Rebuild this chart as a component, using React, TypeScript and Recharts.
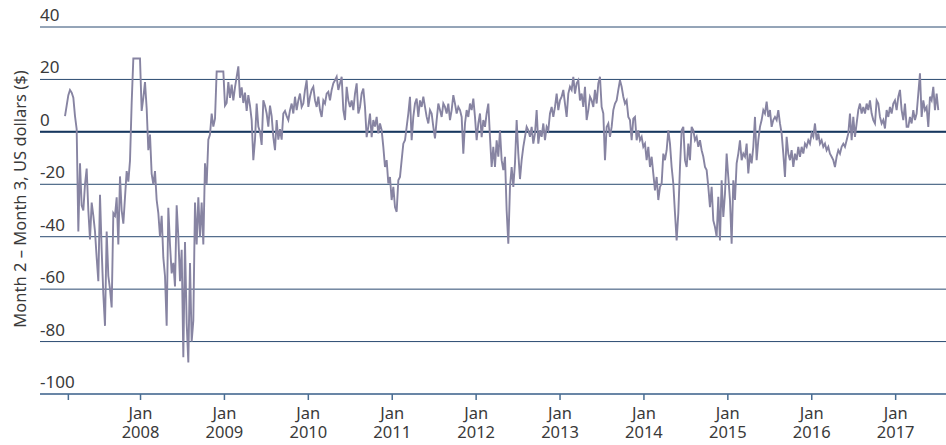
import { LineChart, Line, XAxis, YAxis, CartesianGrid, ReferenceLine } from 'recharts';

// Month 2 minus month 3 spread, US$, sampled roughly weekly from Feb 2007.
const START_YEAR = 2007.1;
const STEP_YEARS = 0.019863;

const spreadFeb07 = [
  6, 10, 14, 16, 15, 13, 6, 1, -38, -12,
  -28, -30, -20, -14, -30, -41, -27, -32, -38, -48,
  -57, -24, -45, -62, -74, -38, -55, -60, -67, -31,
  -32, -25, -43, -17, -30, -35, -25, -15, -19, -11,
  11, 28, 28, 28, 28, 28, 8, 13, 19, 9,
  -7, -1, -16, -20, -15, -26, -31, -40, -32, -48,
  -55, -74, -29, -43, -54, -50,
];
const spreadJun08 = [
  -59, -28, -40, -57, -45, -86, -42, -73, -88, -50,
  -80, -72, -27, -43, -25, -40, -27, -43, -12, -20,
  -3, -1, 7, 2, 5, 23, 23, 23, 23, 23,
  10, 11, 19, 13, 18, 12, 17, 21, 25, 13,
  17, 11, 15, 8, 14, 10, 4.5, -10.8, -3, 10.8,
  2, 0, -5, 12, 10, 7, 2, 10, 6, -2,
  -7, 4.5, -3, 1, -3, 7, 8, 6, 4.5,
];
const spreadOct09 = [
  8.3, 10.8, 7, 13.4, 8.3, 12, 14.6, 9.5, 10.8, 16,
  19.7, 9.5, 13.4, 16, 17.2, 12, 9.5, 13.4, 8.3, 5.7,
  12, 10.8, 14.6, 15.3, 12, 16, 18.5, 19.7, 21, 16,
  18.5, 21, 8.3, 4.5, 17.2, 12, 9.5, 12, 8.3, 14.6,
  18.5, 7, 9.5, 14.6, 16.5, 9.5, -2, 2, 7, -2,
  4.5, 2, 5.7, -0.6, 3.2, 0.6, -5.7, -13.4, -10.8, -19.7,
  -17.2, -26, -21, -28.7, -30.5, -18.5, -17.2, -10.8, -4.5,
];
const spreadFeb11 = [
  -3.2, 1.9, 7, 13.4, -3.2, 5.7, 10.8, 12.7, 5.7, 12,
  9.5, 13.4, 9.5, 5.7, 3.2, 8.3, 7, 1.9, -2.5, 4.5,
  10.8, 8.3, 5.7, 10.8, 9.5, 7, 10.8, 4.5, 8.3, 14,
  10.8, 7, 9.5, 8.3, 5.7, -8.3, 3.2, 8.3, 5.7, 10.8,
  8.3, 12.7, 5.7, -3.2, 3.2, 7, -2, 4.5, 1.9, 7,
  10.8, -2, -13.4, -5.7, -13.4, -3.2, -9.5, 0.6, -10.8, -14.6,
  -9.5, -30, -42.7, -21, -13.4, -21, -12, 4.5, -8.3,
];
const spreadJul12 = [
  -18, -10.8, -5.7, -1.9, 1.9, 0.6, -1.9, 1.9, -4.5, -0.6,
  8.3, -4.5, 0.6, -1.9, 3.2, -3.2, 1.9, 0.6, 7, 9.5,
  5.7, 9.5, 14.6, 8.3, 12, 13.4, 16, 10.8, 5.7, 14.6,
  17.2, 16, 21, 14.6, 18.5, 19.7, 12, 14.6, 9.5, 17.2,
  4.5, 8.3, 13.4, 12, 9.5, 16, 10.8, 18.5, 21, 9.5,
  7, -10.8, 1.9, 3.2, -1.9, 1.9, 8.3, 10.8, 12, 16,
  19.7, 17.2, 13.4, 10.8, 12, 5.7, 4.5, -3.2, 5,
];
const spreadDec13 = [
  5.7, -3.2, 0.6, -3.2, -1.9, -5.7, -4.5, -10.8, -5.7, -13.4,
  -9.5, -15.9, -22.3, -17.2, -26, -21, -19.7, -8.3, -10.8, -7,
  0.6, -4.5, -13.4, -19.7, -31, -41.4, -31, -13.4, 0.6, 1.9,
  -10.8, -13.4, -4.5, -10.8, 1.9, 0.6, -3.2, -1.9, -5.7, -3.2,
  -7, -9.5, -13.4, -14.6, -21, -28.7, -21, -33.8, -36.3, -40,
  -24.8, -41.4, -18.5, -32.5, -23.6, -8.3, -17.2, -26, -42.7, -18.5,
  -26, -12, -8.3, -3.2, -10.8, -8.3, -9.5, -4.5, -15.9,
];
const spreadApr15 = [
  -8.3, -12, -5.7, 5.7, -10.8, -3.2, 1.9, 4.5, 8.3, 7,
  11.5, 5.7, 8.3, 1.9, 4.5, 5.7, 4.5, 8.3, 3.2, -0.6,
  -8.3, -17.2, -1.9, -8.3, -10.8, -7, -13.4, -8.3, -10.8, -5.7,
  -9.5, -5.7, -8.3, -4.5, -5.7, -3.2, -4.5, -0.6, -1.9, 3.2,
  -3.2, -0.6, -4.5, -3.2, -5.7, -4.5, -7, -5.7, -8.3, -9.5,
  -10.8, -13.4, -9.5, -7, -8.3, -5.7, -4.5, -5.7, -3.2, -0.6,
  7, -3.2, 5.7, -1.9, 3.2, 8.3, 10.8, 7, 9.5,
];
const spreadSep16 = [
  7, 10.8, 8.3, 12, 7, 4.5, 3.2, 12, 10.8, 5.7,
  3.2, 4.5, 1.3, 8.3, 5.7, 9.5, 7, 10.8, 12, 8.3,
  13.4, 16, 8.3, 4.5, 10.8, 1.9, 1.9, 5.7, 3.2, 8.3,
  4.5, 7, 14.6, 22.3, 5.7, 12, 8.3, 9.5, 1.9, 13.4,
  12, 17.2, 8.3, 14.6, 8.3,
];

const seriesStartTick = 2007.14;
const janYears = [2008, 2009, 2010, 2011, 2012, 2013, 2014, 2015, 2016, 2017];
const yTicks = [-100, -80, -60, -40, -20, 0, 20, 40];
const yTitle = 'Month 2 – Month 3, US dollars ($)';

const values = [
  ...spreadFeb07, ...spreadJun08, ...spreadOct09, ...spreadFeb11,
  ...spreadJul12, ...spreadDec13, ...spreadApr15, ...spreadSep16,
];
const data = values.map((v, i) => ({ t: START_YEAR + i * STEP_YEARS, v }));

const FONT = '"Noto Sans", "Open Sans", sans-serif';
const TEXT = '#3a3a3a';

function YearTick({ x, y, payload }: any) {
  if (!Number.isInteger(payload.value)) return <g />;
  return (
    <text x={x} y={y + 19} textAnchor="middle" fontFamily={FONT} fontSize={16.5} fill={TEXT}>
      <tspan x={x}>Jan</tspan>
      <tspan x={x} dy={19}>{payload.value}</tspan>
    </text>
  );
}

// y label sits just above its gridline, flush with the plot's left edge
function ValueTick({ y, payload }: any) {
  return (
    <text x={40} y={y - 6} textAnchor="start" fontFamily={FONT} fontSize={17} fill={TEXT}>
      {String(payload.value)}
    </text>
  );
}

export default function App() {
  return (
    <div style={{ width: 946, height: 445, position: 'relative' }}>
      <style>{'body{margin:0}'}</style>
      <LineChart
        width={946}
        height={445}
        data={data}
        margin={{ top: 27, right: 0, bottom: 0, left: 0 }}
      >
        <CartesianGrid vertical={false} stroke="#2a4a70" strokeWidth={1} />
        <XAxis
          dataKey="t"
          type="number"
          domain={[2006.802, 2017.6]}
          allowDataOverflow
          ticks={[seriesStartTick, ...janYears]}
          tick={<YearTick />}
          tickSize={6}
          tickMargin={0}
          height={51}
          interval={0}
          axisLine={{ stroke: '#5b7da0', strokeWidth: 1.5 }}
          tickLine={{ stroke: '#4a6d93', strokeWidth: 1.5 }}
        />
        <YAxis
          type="number"
          domain={[-100, 40]}
          ticks={yTicks}
          width={40}
          tickSize={0}
          tickMargin={0}
          axisLine={false}
          tickLine={false}
          tick={<ValueTick />}
          interval={0}
        />
        <ReferenceLine y={0} stroke="#17375e" strokeWidth={2} />
        <Line
          type="linear"
          dataKey="v"
          stroke="#8784a2"
          strokeWidth={1.9}
          dot={false}
          isAnimationActive={false}
        />
      </LineChart>
      <svg
        width={40}
        height={445}
        style={{ position: 'absolute', left: 0, top: 0, pointerEvents: 'none' }}
      >
        <text
          x={26}
          y={199}
          transform="rotate(-90, 26, 199)"
          textAnchor="middle"
          fontFamily={FONT}
          fontSize={16.5}
          fill={TEXT}
        >
          {yTitle}
        </text>
      </svg>
    </div>
  );
}
